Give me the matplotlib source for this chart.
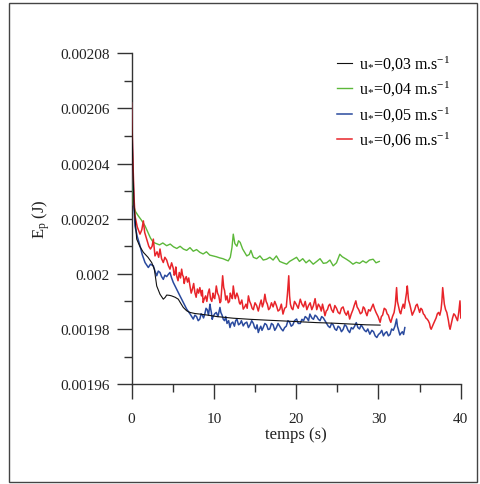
import matplotlib
matplotlib.use("Agg")
import matplotlib.pyplot as plt
import numpy as np
from matplotlib.patches import Rectangle
from matplotlib.ticker import MultipleLocator, FixedLocator, FixedFormatter

plt.rcParams['font.family'] = ['Liberation Serif', 'DejaVu Serif']
plt.rcParams['mathtext.fontset'] = 'custom'
plt.rcParams['mathtext.rm'] = 'Liberation Serif'
plt.rcParams['mathtext.it'] = 'Liberation Serif:italic'
plt.rcParams['mathtext.default'] = 'regular'

# energies in units of 1e-5 J
t_003 = [0, 0.15, 0.3, 0.63, 1.0, 1.44, 2.0, 2.45, 2.77, 2.9, 3.06, 3.46, 3.86, 4.1,
         4.27, 4.6, 4.87, 5.3, 5.68, 6.0, 6.29, 6.7, 7.1, 7.7, 8.3, 9.3, 10.34, 12.36,
         14.4, 16.4, 18.5, 20.5, 22.5, 24.5, 26.5, 28.55, 30.2]
ep_003 = [206.2, 204.0, 202.5, 201.26, 201.0, 200.78, 200.6, 200.41, 200.17, 199.9,
          199.56, 199.26, 199.08, 199.15, 199.23, 199.22, 199.2, 199.15, 199.08, 198.92,
          198.78, 198.66, 198.6, 198.56, 198.54, 198.5, 198.45, 198.39, 198.35, 198.32,
          198.29, 198.26, 198.23, 198.21, 198.18, 198.15, 198.14]

t_004 = [0, 0.1, 0.22, 0.5, 0.83, 1.2, 1.64, 2.0, 2.3, 2.65, 3.0, 3.4, 3.8, 4.27, 4.7,
         5.1, 5.5, 5.9, 6.3, 6.7, 7.1, 7.5, 7.9, 8.3, 8.7, 9.1, 9.5, 9.9, 10.3, 10.7,
         11.1, 11.5, 11.75, 12.0, 12.2, 12.36, 12.55, 12.8, 13.0, 13.2, 13.5, 13.8, 14.0,
         14.3, 14.5, 14.8, 15.2, 15.6, 16.0, 16.4, 16.8, 17.2, 17.6, 18.0, 18.4, 18.85,
         19.2, 19.6, 20.05, 20.4, 20.8, 21.2, 21.6, 22.07, 22.5, 22.9, 23.3, 23.7, 24.1,
         24.5, 24.9, 25.3, 25.6, 26.1, 26.5, 26.9, 27.3, 27.7, 28.1, 28.5, 28.9, 29.35,
         29.7, 30.1]
ep_004 = [206.2, 204.5, 202.5, 202.25, 202.1, 201.95, 201.74, 201.5, 201.3, 201.14,
          201.1, 201.05, 201.12, 201.02, 201.08, 200.98, 200.92, 201.0, 200.9, 200.85,
          200.95, 200.82, 200.88, 200.78, 200.72, 200.8, 200.68, 200.65, 200.62, 200.58,
          200.55, 200.5, 200.47, 200.6, 200.95, 201.44, 201.1, 201.0, 201.2, 201.14,
          200.9, 200.75, 200.65, 200.7, 200.85, 200.6, 200.55, 200.65, 200.5, 200.53,
          200.6, 200.5, 200.65, 200.45, 200.4, 200.35, 200.45, 200.52, 200.6, 200.45,
          200.55, 200.4, 200.5, 200.35, 200.45, 200.55, 200.38, 200.4, 200.5, 200.29,
          200.4, 200.71, 200.62, 200.53, 200.45, 200.35, 200.42, 200.38, 200.47, 200.4,
          200.5, 200.53, 200.4, 200.45]

t_005 = [0, 0.15, 0.3, 0.42, 0.7, 1.03, 1.3, 1.64, 2.04, 2.3, 2.65, 2.85, 3.06, 3.25,
         3.46, 3.65, 3.86, 4.05, 4.27, 4.47, 4.67, 4.87, 5.07, 5.3, 5.48, 5.8, 6.09,
         6.4, 6.7, 7.1,
         7.5, 7.7, 7.9, 8.1, 8.3, 8.45, 8.6, 8.75, 8.9, 9.05, 9.2, 9.35, 9.53, 9.6, 9.7,
         9.8, 9.9, 10.1, 10.3, 10.5, 10.74, 10.85, 11.0, 11.15, 11.3, 11.45, 11.6, 11.8,
         11.96, 12.1, 12.3, 12.5, 12.65, 12.8, 13.0, 13.2, 13.35, 13.57, 13.75, 14.0,
         14.2, 14.4, 14.6, 14.8, 14.95, 15.1, 15.25, 15.4, 15.55, 15.7, 15.85, 16.0,
         16.2, 16.4, 16.6, 16.8, 17.0, 17.2, 17.4, 17.6, 17.8, 18.0, 18.2, 18.4, 18.6,
         18.8, 19.0, 19.2, 19.4, 19.6, 19.8, 20.05, 20.25, 20.5, 20.7, 20.9, 21.1, 21.3,
         21.5, 21.67, 21.9, 22.1, 22.3, 22.5, 22.7, 22.9, 23.1, 23.3, 23.5, 23.7, 23.9,
         24.1, 24.3, 24.5, 24.7, 24.9, 25.1, 25.3, 25.5, 25.7, 25.9, 26.1, 26.3, 26.5,
         26.7, 26.9, 27.1, 27.3, 27.5, 27.7, 27.9, 28.1, 28.3, 28.5, 28.7, 28.95, 29.2,
         29.4, 29.6, 29.8, 30.0, 30.2, 30.4, 30.6, 30.8, 31.0, 31.2, 31.4, 31.6, 31.8,
         32.0, 32.2, 32.3, 32.4, 32.6, 32.75, 32.9, 33.05, 33.2]
ep_005 = [206.2, 204.0, 202.4, 201.74, 201.35, 201.02, 200.7, 200.41, 200.23, 200.35,
          200.29, 200.1, 199.93, 200.1, 200.05, 199.9, 199.8, 199.95, 199.9, 199.98,
          200.05, 199.85, 199.69, 199.55, 199.44, 199.25, 199.08, 198.9, 198.72, 198.55,
          198.36, 198.5, 198.45, 198.3, 198.36, 198.55, 198.5, 198.4, 198.54, 198.75,
          198.7, 198.5, 198.9, 198.75, 198.6, 198.35, 198.44, 198.55, 198.6, 198.45,
          198.78, 198.6, 198.5, 198.35, 198.3, 198.45, 198.2, 198.3, 198.05, 198.2,
          198.25, 198.1, 198.3, 198.36, 198.15, 198.2, 198.3, 198.11, 198.2, 198.25,
          198.05, 198.15, 198.3, 198.2, 198.05, 198.0, 198.15, 197.87, 198.0, 198.1,
          197.95, 198.05, 198.2, 198.15, 197.98, 198.0, 198.2, 198.15, 197.95, 198.05,
          198.2, 198.1, 198.0, 197.93, 198.05, 198.1, 198.3, 198.25, 198.1, 198.15,
          198.3, 198.36, 198.2, 198.2, 198.35, 198.3, 198.45, 198.4, 198.3, 198.54,
          198.4, 198.35, 198.5, 198.45, 198.35, 198.3, 198.45, 198.4, 198.3, 198.2,
          198.1, 198.05, 198.2, 198.15, 198.0, 197.95, 198.1, 198.05, 197.9, 197.98,
          198.15, 198.1, 197.95, 197.87, 198.05, 198.0, 198.1, 198.23, 198.05, 198.0,
          198.15, 198.05, 197.95, 197.9, 198.0, 197.81, 197.95, 197.9, 197.75, 197.69,
          197.8, 197.85, 197.95, 197.75, 197.85, 197.9, 197.75, 197.8, 198.0, 197.95,
          198.1, 198.36, 198.1, 198.0, 197.78, 197.85, 197.9, 197.8, 198.05]

t_006 = [0, 0.15, 0.3, 0.42, 0.7, 1.03, 1.25, 1.44, 1.6, 1.84, 2.1, 2.3, 2.5, 2.65, 2.85,
         3.1, 3.3, 3.46, 3.65, 3.86, 4.05, 4.27, 4.47, 4.67, 4.87,
         5.07, 5.18, 5.28, 5.38, 5.48, 5.65, 5.8, 5.95, 6.09, 6.2, 6.3, 6.4, 6.5, 6.65,
         6.8, 6.95, 7.1, 7.25, 7.4, 7.55, 7.7, 7.85, 8.0, 8.15, 8.3, 8.4, 8.5, 8.6, 8.7,
         8.85, 9.0, 9.15, 9.3, 9.45, 9.6, 9.75, 9.9, 10.0, 10.1, 10.2, 10.3, 10.45, 10.6,
         10.75, 10.85, 10.95, 11.07, 11.2, 11.3, 11.45, 11.6, 11.75, 11.9, 12.0, 12.1,
         12.25, 12.36, 12.5, 12.6, 12.8, 12.97, 13.1, 13.2, 13.4, 13.57, 13.75, 13.9,
         14.05, 14.2, 14.35, 14.5, 14.65, 14.8, 15.0, 15.2, 15.4, 15.6, 15.75, 15.9,
         16.05, 16.2, 16.35, 16.5, 16.65, 16.8, 17.0, 17.2, 17.4, 17.6, 17.8, 18.0, 18.2,
         18.4, 18.6, 18.8, 18.95, 19.1, 19.2, 19.3, 19.45, 19.6, 19.8, 20.0, 20.25, 20.5,
         20.7, 20.9, 21.1, 21.3, 21.5, 21.7, 21.9, 22.1, 22.3, 22.5, 22.7, 22.9, 23.05,
         23.2, 23.35, 23.5, 23.65, 23.8, 23.95, 24.1, 24.3, 24.5, 24.7, 24.9, 25.1, 25.3,
         25.5, 25.7, 25.9, 26.1, 26.3, 26.5, 26.7, 26.9, 27.05, 27.25, 27.4, 27.6, 27.8,
         28.0, 28.15, 28.3, 28.45, 28.6, 28.8, 29.0, 29.2, 29.35, 29.5, 29.7, 29.95, 30.2,
         30.35, 30.5, 30.7, 30.9, 31.05, 31.2, 31.35, 31.5, 31.7, 31.9, 32.05, 32.2, 32.3,
         32.45, 32.6, 32.7, 32.85, 33.0, 33.15, 33.3, 33.4, 33.5, 33.65, 33.8, 33.95,
         34.1, 34.25, 34.4, 34.55, 34.7, 34.85, 35.0, 35.15, 35.3, 35.45, 35.6, 35.75,
         35.9, 36.05, 36.2, 36.3, 36.4, 36.55, 36.7, 36.85, 37.0, 37.15, 37.3, 37.45,
         37.6, 37.7, 37.8, 37.9, 38.0, 38.15, 38.3, 38.4, 38.5, 38.6, 38.7, 38.85, 39.0,
         39.15, 39.3, 39.45, 39.6, 39.75, 39.9, 40.0]
ep_006 = [206.2, 204.3, 202.8, 202.1, 201.7, 201.44, 201.6, 201.92, 201.5, 201.26, 201.0,
          200.9, 201.0, 201.26, 200.65, 200.8, 200.6, 200.9, 200.55, 200.41, 200.6,
          200.5, 200.3, 200.17, 200.4,
          200.2, 199.95, 200.0, 200.25, 199.93, 199.75, 200.05, 199.85, 200.17, 199.95,
          199.9, 199.65, 199.8, 199.9, 199.7, 199.85, 199.56, 199.3, 199.45, 199.65,
          199.32, 199.15, 199.45, 199.3, 199.5, 199.35, 199.2, 199.4, 198.96, 199.1,
          199.2, 199.0, 199.3, 199.45, 199.1, 199.0, 199.3, 199.15, 199.1, 199.3, 199.56,
          199.3, 199.2, 198.95, 199.0, 199.4, 199.93, 199.5, 199.4, 199.05, 199.2,
          198.95, 199.0, 199.3, 199.2, 199.1, 199.56, 199.25, 199.1, 199.3, 199.15,
          198.95, 198.9, 199.05, 198.72, 198.8, 198.9, 198.75, 199.2, 199.0, 198.9,
          198.75, 198.7, 198.95, 198.85, 198.65, 198.9, 199.05, 198.8, 198.95, 199.26,
          199.0, 198.9, 198.7, 198.75, 198.95, 198.8, 199.0, 198.85, 198.65, 198.7,
          198.9, 198.54, 198.75, 198.8, 199.3, 199.93, 199.2, 198.9, 198.75, 198.7,
          199.0, 198.9, 198.75, 199.08, 198.9, 198.8, 199.0, 198.7, 198.85, 198.95,
          198.7, 198.85, 199.1, 198.7, 198.9, 198.8, 198.65, 198.9, 198.7, 198.48,
          198.65, 198.7, 198.85, 198.9, 198.7, 198.6, 198.85, 198.75, 198.6, 198.55,
          198.75, 198.8, 198.6, 198.5, 198.65, 198.36, 198.55, 198.7, 198.85, 199.02,
          198.8, 198.7, 198.55, 198.6, 198.8, 198.75, 198.6, 198.48, 198.7, 198.65,
          198.8, 198.9, 198.75, 198.6, 198.45, 198.24, 198.45, 198.5, 198.75, 198.7,
          198.55, 198.5, 198.35, 198.24, 198.45, 198.6, 198.9, 199.5, 199.0, 198.8,
          198.6, 198.55, 198.75, 198.9, 198.75, 199.1, 199.3, 199.56, 199.05, 198.9,
          198.7, 198.5, 198.6, 198.7, 198.85, 198.9, 198.75, 198.6, 198.75, 198.7,
          198.55, 198.5, 198.4, 198.36, 198.3, 198.2, 198.05, 197.99, 198.1, 198.2,
          198.3, 198.4, 198.55, 198.6, 198.5, 198.7, 199.0, 199.5, 199.2, 198.9, 198.7,
          198.6, 198.45, 198.3, 198.1, 197.99, 198.2, 198.4, 198.55, 198.5, 198.4, 198.3,
          198.6, 199.02, 198.4]

labels = [r"u$_{*}$=0,03 m.s$^{-1}$", r"u$_{*}$=0,04 m.s$^{-1}$",
          r"u$_{*}$=0,05 m.s$^{-1}$", r"u$_{*}$=0,06 m.s$^{-1}$"]
colors = ["#111111", "#5cb83a", "#2a4a9e", "#e8242a"]

fig = plt.figure(figsize=(4.8, 4.85), dpi=100)
ax = fig.add_axes([0.274, 0.206, 0.686, 0.682])

scale = 1e-5
l2, = ax.plot(t_004, np.array(ep_004) * scale, color=colors[1], lw=1.0, zorder=3)
l3, = ax.plot(t_005, np.array(ep_005) * scale, color=colors[2], lw=1.1, zorder=3)
l4, = ax.plot(t_006, np.array(ep_006) * scale, color=colors[3], lw=1.1, zorder=3)
l1, = ax.plot(t_003, np.array(ep_003) * scale, color=colors[0], lw=0.8, zorder=3)

ax.set_xlim(0, 40)
ax.set_ylim(0.00196, 0.00208)

yticks = [0.00196, 0.00198, 0.002, 0.00202, 0.00204, 0.00206, 0.00208]
ytick_labels = ["0.00196", "0.00198", "0.002", "0.00202", "0.00204", "0.00206", "0.00208"]
ax.yaxis.set_major_locator(FixedLocator(yticks))
ax.yaxis.set_major_formatter(FixedFormatter(ytick_labels))
ax.yaxis.set_minor_locator(MultipleLocator(0.00001))
ax.xaxis.set_major_locator(MultipleLocator(10))
ax.xaxis.set_minor_locator(MultipleLocator(5))

for s in ['top', 'right']:
    ax.spines[s].set_visible(False)
for s in ['left', 'bottom']:
    ax.spines[s].set_color('#333333')
    ax.spines[s].set_linewidth(1.0)

ax.tick_params(which='major', direction='out', length=10.8, width=1.0, color='#333333',
               labelsize=11, labelcolor='#222222')
ax.tick_params(which='minor', direction='out', length=5.6, width=1.0, color='#333333')
ax.tick_params(axis='y', which='major', pad=5)
ax.tick_params(axis='x', which='major', pad=9)

ax.set_xlabel("temps (s)", fontsize=12, color='#222222', labelpad=1)
ax.set_ylabel("E$_p$ (J)", fontsize=12, color='#222222', labelpad=6)

fig.legend([l1, l2, l3, l4], labels, loc='upper left',
           bbox_to_anchor=(337 / 480, 1 - 55 / 485), frameon=False,
           fontsize=11.5, handlelength=0.95, handletextpad=0.45, labelspacing=0.4,
           borderpad=0, borderaxespad=0)

fig.patches.append(Rectangle((9 / 480, 2 / 485), 468 / 480, 479 / 485,
                             transform=fig.transFigure, fill=False,
                             edgecolor='#444444', lw=1.0))

fig.savefig("out.png", dpi=100)
